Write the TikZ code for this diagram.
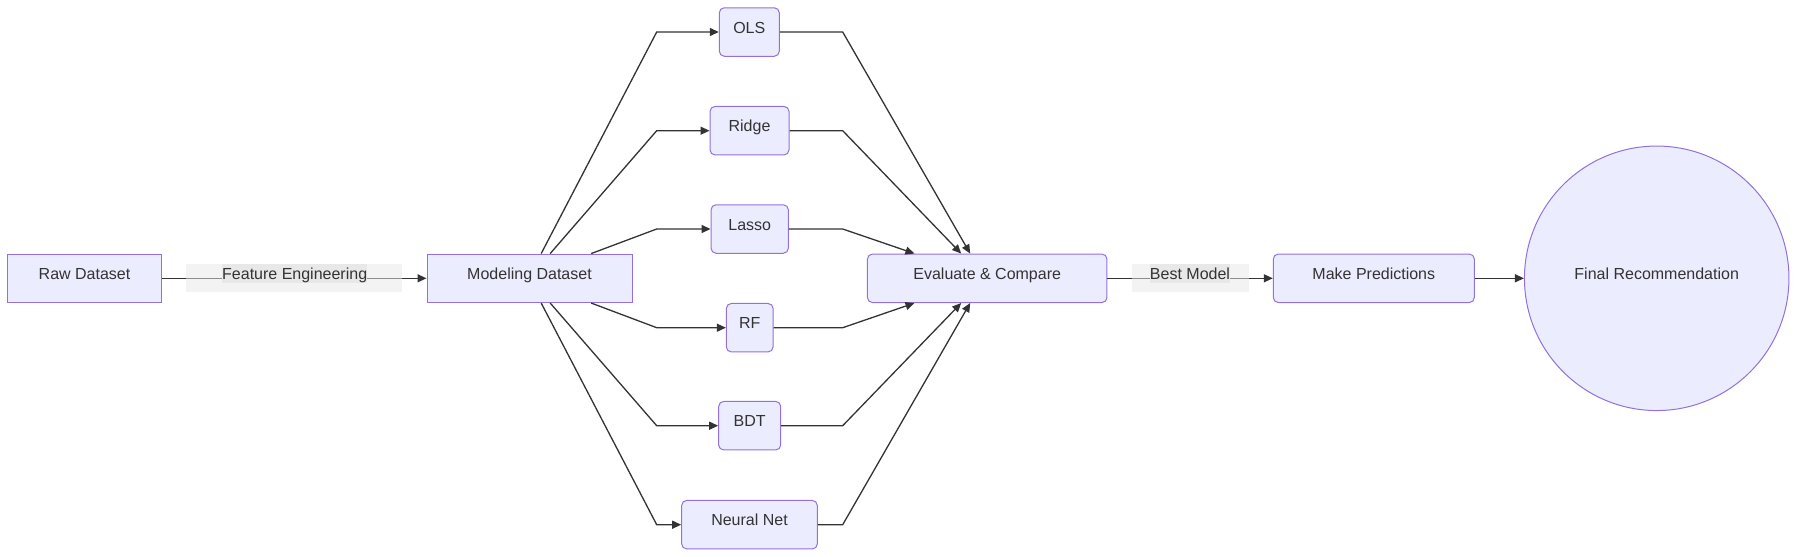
\documentclass[tikz,border=0pt]{standalone}
\usepackage{fontspec}
\setmainfont{Liberation Sans}
\usetikzlibrary{arrows.meta,calc}
\definecolor{boxfill}{HTML}{ECECFF}
\definecolor{boxline}{HTML}{9370DB}
\definecolor{ink}{HTML}{333333}
\definecolor{lblbg}{HTML}{E8E8E8}
\begin{document}
\begin{tikzpicture}[x=1pt,y=-1pt,
  every node/.style={font=\fontsize{16}{19}\selectfont, text=ink},
  box/.style={draw=boxline, fill=boxfill, line width=1pt, inner sep=0pt, minimum height=48.5pt, text height=10pt, text depth=8pt},
  rbox/.style={box, rounded corners=5pt},
  link/.style={draw=ink, line width=1.3pt, -{Triangle[length=9pt,width=8pt]}},
  lblout/.style={fill=lblbg, fill opacity=0.5, inner sep=0pt, minimum height=28.3pt},
  lblin/.style={fill=lblbg, inner sep=0pt, minimum height=19pt, text height=11.6pt, text depth=0pt},
]
\useasboundingbox (0,0) rectangle (1797,557);
% main row
\node[box, minimum width=154.4pt] (raw) at (84.5,278.3) {Raw Dataset};
\node[box, minimum width=205pt] (mod) at (529.5,278.3) {Modeling Dataset};
\node[rbox, minimum width=239.5pt] (eval) at (987.2,278.3) {Evaluate \& Compare};
\node[rbox, minimum width=201pt] (pred) at (1373.8,278.3) {Make Predictions};
\node[circle, draw=boxline, fill=boxfill, line width=1pt, inner sep=0pt, minimum size=264.5pt, text height=10pt, text depth=8pt] (final) at (1656.7,278.3) {Final Recommendation};
% models
\node[rbox, minimum width=60pt] (ols) at (749.3,32) {OLS};
\node[rbox, minimum width=79pt] (ridge) at (749.5,130.7) {Ridge};
\node[rbox, minimum width=77.3pt] (lasso) at (749.7,229) {Lasso};
\node[rbox, minimum width=46.7pt] (rf) at (749.7,327.7) {RF};
\node[rbox, minimum width=62pt] (bdt) at (749.7,425.7) {BDT};
\node[rbox, minimum width=135.6pt] (nn) at (749.5,524.7) {Neural Net};
% bend columns
\coordinate (lb) at (656.7,278.3);
\coordinate (rb) at (842.7,278.3);
% edges
\draw[link] (raw.east) -- (mod.west);
\draw[link] (eval.east) -- (pred.west);
\draw[link] (pred.east) -- (pred.east -| final.west);
\draw[link] ($(mod.north west)+(114.7,0)$) -- (lb |- ols.west) -- (ols.west);
\draw[link] ($(mod.north west)+(123.7,0)$) -- (lb |- ridge.west) -- (ridge.west);
\draw[link] ($(mod.north west)+(164.7,0)$) -- (lb |- lasso.west) -- (lasso.west);
\draw[link] ($(mod.south west)+(164.7,0)$) -- (lb |- rf.west) -- (rf.west);
\draw[link] ($(mod.south west)+(123.7,0)$) -- (lb |- bdt.west) -- (bdt.west);
\draw[link] ($(mod.south west)+(114.7,0)$) -- (lb |- nn.west) -- (nn.west);
\draw[link] (ols.east) -- (rb |- ols.east) -- ($(eval.north west)+(103.2,0)$);
\draw[link] (ridge.east) -- (rb |- ridge.east) -- ($(eval.north west)+(94.2,0)$);
\draw[link] (lasso.east) -- (rb |- lasso.east) -- ($(eval.north west)+(47.5,0)$);
\draw[link] (rf.east) -- (rb |- rf.east) -- ($(eval.south west)+(47.5,0)$);
\draw[link] (bdt.east) -- (rb |- bdt.east) -- ($(eval.south west)+(94.2,0)$);
\draw[link] (nn.east) -- (rb |- nn.east) -- ($(eval.south west)+(103.2,0)$);
% edge labels
\node[lblout, minimum width=216pt] (febg) at (294,278.15) {};
\node[lblin, minimum width=144pt] (fe) at (294.7,273.5) {Feature Engineering};
\node[lblout, minimum width=116.7pt] (bmbg) at (1190.3,278.15) {};
\node[lblin, minimum width=78pt] (bm) at (1190,273.4) {Best Model};
\end{tikzpicture}
\end{document}
